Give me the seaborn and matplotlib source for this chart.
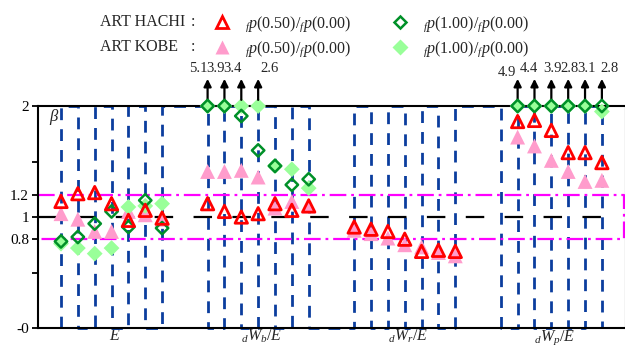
import numpy as np
import pandas as pd
import matplotlib
matplotlib.use("Agg")
import matplotlib.pyplot as plt
import seaborn as sns
from matplotlib.lines import Line2D

# --- data: 4 groups x 7 slots (beta ratios) ---
group_labels = [r"$E$", r"${}_{d}W_{b}/E$", r"${}_{d}W_{r}/E$", r"${}_{d}W_{p}/E$"]
N_SLOT = 7
nan = np.nan

# ART HACHI  fp(0.50)/fp(0.00)
hachi_050 = [1.14, 1.21, 1.22, 1.12, 0.97, 1.06, 0.99,
             1.12, 1.05, 1.00, 1.03, 1.12, 1.06, 1.10,
             0.91, 0.89, 0.87, 0.80, 0.69, 0.70, 0.69,
             nan, 1.86, 1.87, 1.78, 1.58, 1.58, 1.49]
# ART KOBE  fp(0.50)/fp(0.00)
kobe_050 = [1.03, 0.98, 0.87, 0.87, 1.05, 1.02, 0.98,
            1.41, 1.41, 1.42, 1.36, 1.08, 1.14, 1.10,
            0.88, 0.85, 0.81, 0.75, 0.73, 0.68, 0.65,
            nan, 1.72, 1.64, 1.51, 1.41, 1.32, 1.33]
# ART HACHI  fp(1.00)/fp(0.00)
hachi_100 = [0.78, 0.82, 0.94, 1.05, 0.91, 1.15, 0.90,
             5.1, 3.9, 1.91, 1.60, 1.46, 1.29, 1.34,
             nan, nan, nan, nan, nan, nan, nan,
             nan, 4.9, 4.4, 3.9, 2.8, 3.1, 2.8]
# ART KOBE  fp(1.00)/fp(0.00)
kobe_100 = [0.76, 0.72, 0.67, 0.72, 1.09, 1.10, 1.12,
            2.0, 2.0, 3.4, 2.6, 1.46, 1.43, 1.26,
            nan, nan, nan, nan, nan, nan, nan,
            nan, 2.0, 2.0, 2.0, 2.0, 2.0, 1.95]

YMAX = 2.0
GROUP_STEP = 8.7
pos = np.array([g * GROUP_STEP + i for g in range(4) for i in range(N_SLOT)], float)

sns.set_style("white")
plt.rcParams['font.family'] = ['Liberation Serif', 'DejaVu Serif']
plt.rcParams['mathtext.fontset'] = 'custom'
plt.rcParams['mathtext.rm'] = 'Liberation Serif'
plt.rcParams['mathtext.it'] = 'Liberation Serif:italic'
plt.rcParams['lines.scale_dashes'] = False

fig = plt.figure(figsize=(6.25, 3.47), dpi=100)
W, H = 625, 347
ax = fig.add_axes([38 / W, 1 - 328 / H, (626 - 38) / W, 222 / H])
px = 16.85
ax.set_xlim(-23 / px, (626 - 61) / px)
ax.set_ylim(0, YMAX)

# blue dashed zigzag through every slot
zx = np.repeat(pos, 2)
zy = np.array([[0, YMAX, YMAX, 0][k % 4] for k in range(len(zx))])
ax.plot(zx, zy, color='#0b3d9e', lw=2.0, dashes=(8.5, 6.5), clip_on=False, zorder=1)

# reference lines
xl, xr = ax.get_xlim()
ax.plot([xl, pos[-1]], [1, 1], color='black', lw=1.6, dashes=(13.3, 14.7), zorder=2)
xm = xr - 0.12
ax.plot([xl, xm, xm, xl], [1.2, 1.2, 0.8, 0.8], color='#ff00ff', lw=1.6,
        dashes=(12, 3.5, 2, 3.5), zorder=2)

def draw(vals, marker, size, face, edge, lw, z):
    v = np.minimum(np.array(vals, float), YMAX)
    df = pd.DataFrame({'x': pos, 'y': v}).dropna()
    sns.scatterplot(data=df, x='x', y='y', ax=ax, marker=marker, s=size,
                    clip_on=False, zorder=z, legend=False)
    coll = ax.collections[-1]
    coll.set_facecolor(face)
    coll.set_edgecolor(edge)
    coll.set_linewidth(lw)

draw(kobe_050, '^', 115, '#ff9ccc', 'none', 0, 3)
draw(kobe_100, 'D', 65, '#99ff99', 'none', 0, 3)
draw(hachi_100, 'D', 40, 'none', '#009028', 1.8, 4)
draw(hachi_050, '^', 80, 'none', '#ff0000', 2.0, 5)

# arrows for values beyond the axis
over = sorted([(x, v) for s in (hachi_100, kobe_100) for x, v in zip(pos, s)
               if not np.isnan(v) and v > YMAX])
label_dx = [-9, -9, -9, 11, -11, -6, 1, 1, 1, 8]
label_dy = [0, 0, 0, 0, -4, 0, 0, 0, 0, 0]
for (x, v), dx, dy in zip(over, label_dx, label_dy):
    ax.annotate('', xy=(x, 2.245), xytext=(x, 2.055),
                arrowprops=dict(arrowstyle='-|>', color='black', lw=1.6,
                                mutation_scale=11, shrinkA=0, shrinkB=0),
                annotation_clip=False)
    ax.annotate(f"{v:.1f}", xy=(x, 2.335), xytext=(dx / 1.389, dy / 1.389),
                textcoords='offset points', ha='center', va='center',
                fontsize=10.5, annotation_clip=False)

# axes styling
for s in ax.spines.values():
    s.set_color('black')
    s.set_linewidth(1.5)
ax.set_yticks([0, 0.8, 1, 1.2, 2], labels=['-0', '0.8', '1', '1.2', '2'])
ax.set_yticks([0.5, 1.5], minor=True)
ax.tick_params(axis='y', which='both', direction='out', length=4.5, width=1.3,
               left=True, labelsize=11, pad=2, colors='black')
centers = [pos[g * N_SLOT:(g + 1) * N_SLOT].mean() + 0.2 for g in range(4)]
ax.set_xticks(centers, labels=group_labels)
ax.tick_params(axis='x', length=0, labelsize=11.5, pad=0)
ax.set_xlabel('')
ax.set_ylabel('')
ax.text(0.018, 0.95, r'$\beta$', transform=ax.transAxes, fontsize=12,
        ha='left', va='center')

# legend
fig.text(100 / W, 1 - 22 / H, 'ART HACHI', fontsize=11.5, va='center', ha='left')
fig.text(100 / W, 1 - 47 / H, 'ART KOBE', fontsize=11.5, va='center', ha='left')
fig.text(193 / W, 1 - 22 / H, ':', fontsize=11.5, va='center', ha='center')
fig.text(193 / W, 1 - 47 / H, ':', fontsize=11.5, va='center', ha='center')
lab05 = r'${}_{f}p\mathrm{(0.50)/}{}_{f}p\mathrm{(0.00)}$'
lab10 = r'${}_{f}p\mathrm{(1.00)/}{}_{f}p\mathrm{(0.00)}$'
handles = [
    Line2D([], [], ls='none', marker='^', ms=9, mfc='none', mec='#ff0000', mew=2.0, label=lab05),
    Line2D([], [], ls='none', marker='^', ms=10.7, mfc='#ff9ccc', mec='none', label=lab05),
    Line2D([], [], ls='none', marker='D', ms=6.3, mfc='none', mec='#009028', mew=1.8, label=lab10),
    Line2D([], [], ls='none', marker='D', ms=8, mfc='#99ff99', mec='none', label=lab10),
]
fig.legend(handles=handles, ncol=2, loc='upper left',
           bbox_to_anchor=(203 / W, 1 - 3 / H), frameon=False, fontsize=11.5,
           handlelength=1.0, handletextpad=0.9, columnspacing=2.6,
           labelspacing=0.35, borderpad=0.2)

fig.savefig('out.png', dpi=100)
